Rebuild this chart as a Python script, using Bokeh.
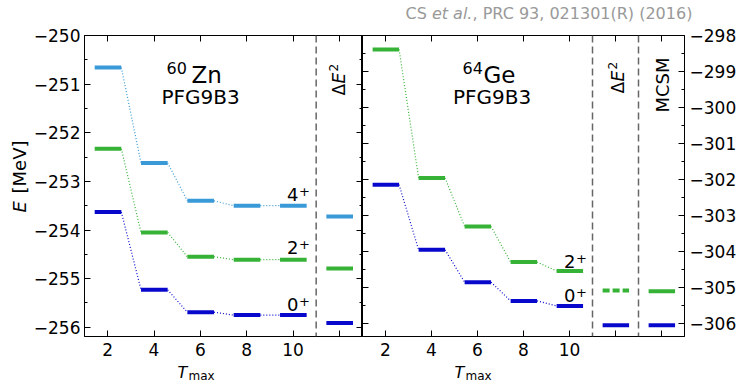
import math
from bokeh.plotting import figure
from bokeh.models import ColumnDataSource, LinearAxis, FixedTicker, Span, Label, Range1d
from bokeh.layouts import row, column
from bokeh.embed import file_html
from bokeh.resources import INLINE

FONT = "DejaVu Sans"

# ---------------- data ----------------
tmax = [2, 4, 6, 8, 10]
x_extrap = 12          # Delta E^2 extrapolation column
x_mcsm = 14            # MCSM column (64Ge only)

# 60Zn, PFG9B3 (MeV)
zn_0 = [-253.63, -255.23, -255.69, -255.75, -255.75]
zn_2 = [-252.33, -254.05, -254.55, -254.61, -254.61]
zn_4 = [-250.66, -252.62, -253.40, -253.50, -253.50]
zn_extrap_0 = -255.91
zn_extrap_2 = -254.79
zn_extrap_4 = -253.72

# 64Ge, PFG9B3 (MeV)
ge_0 = [-302.15, -303.96, -304.86, -305.38, -305.52]
ge_2 = [-298.39, -301.96, -303.31, -304.30, -304.55]
ge_extrap_0 = -306.06
ge_extrap_2 = -305.09
ge_mcsm_0 = -306.06
ge_mcsm_2 = -305.11

zn_yticks = [-256, -255, -254, -253, -252, -251, -250]
zn_yticklabels = ["\u2212256", "\u2212255", "\u2212254", "\u2212253", "\u2212252", "\u2212251", "\u2212250"]
ge_yticks = [-306, -305, -304, -303, -302, -301, -300, -299, -298]
ge_yticklabels = ["\u2212306", "\u2212305", "\u2212304", "\u2212303", "\u2212302",
                  "\u2212301", "\u2212300", "\u2212299", "\u2212298"]
zn_xticks = [2, 4, 6, 8, 10, 12]
ge_xticks = [2, 4, 6, 8, 10, 12, 14]
xticklabels = ["2", "4", "6", "8", "10", "", ""]

# ---------------- style ----------------
C0 = "#0808cc"
C2 = "#36b336"
C4 = "#3a9ad8"
HL, HR = 0.56, 0.59
GRAY = "#666666"
CITE = "#999999"
R90 = math.pi / 2

TOP_H, BOT_H, YLAB_W = 24, 25, 30
MID_H = 389 - TOP_H - BOT_H
FRAME_TOP, FRAME_BOTTOM = 35, 336


def levels(p, xs, ys, color, dash="solid"):
    src = ColumnDataSource(dict(x0=[x - HL for x in xs], x1=[x + HR for x in xs], y=list(ys)))
    p.segment(x0="x0", x1="x1", y0="y", y1="y", source=src, line_color=color,
              line_width=4, line_dash=dash)


def connectors(p, xs, ys, color):
    src = ColumnDataSource(dict(x0=[x + HR for x in xs[:-1]], x1=[x - HL for x in xs[1:]],
                                y0=list(ys[:-1]), y1=list(ys[1:])))
    p.segment(x0="x0", x1="x1", y0="y0", y1="y1", source=src, line_color=color,
              line_width=1.2, line_dash="1 2")


def style_axis(ax, ticks, labels, show, minor=None):
    ax.ticker = FixedTicker(ticks=ticks, minor_ticks=minor or [])
    ax.major_tick_in = 6
    ax.major_tick_out = 0
    ax.minor_tick_in = 3
    ax.minor_tick_out = 0
    ax.axis_line_color = "black"
    ax.major_tick_line_color = "black"
    ax.minor_tick_line_color = "black"
    ax.major_label_text_font = FONT
    ax.major_label_text_color = "black"
    if show:
        ax.major_label_text_font_size = "17px"
        ax.major_label_overrides = {t: l for t, l in zip(ticks, labels)}
    else:
        ax.major_label_text_font_size = "0px"
        ax.major_label_standoff = 0
        ax.major_label_overrides = {t: "" for t in ticks}


def lab(p, x, y, text, size, italic=False, align="left", baseline="alphabetic",
        angle=0.0, color="black"):
    # x, y in pixels relative to the frame's bottom-left corner (y up)
    if baseline == "alphabetic":
        y = y + 0.33 * size
    p.add_layout(Label(x=x, y=y, x_units="screen", y_units="screen", text=text,
                       text_font=FONT, text_font_size=f"{size}px",
                       text_font_style="italic" if italic else "normal",
                       text_align=align, text_baseline=baseline, angle=angle,
                       text_color=color))


def make_fig(width, xr, yr, bl, br):
    p = figure(width=width, height=MID_H, x_range=Range1d(*xr), y_range=Range1d(*yr),
               x_axis_type=None, y_axis_type=None, output_backend="svg",
               toolbar_location=None, min_border_left=bl, min_border_right=br,
               min_border_top=FRAME_TOP - TOP_H,
               min_border_bottom=(389 - BOT_H) - FRAME_BOTTOM)
    p.grid.visible = False
    p.outline_line_color = "black"
    p.outline_line_width = 1
    p.background_fill_color = "white"
    p.border_fill_color = "white"
    return p


def strip(width, height):
    # text-only canvas whose frame fills the whole canvas
    p = figure(width=width, height=height, x_range=Range1d(0, width), y_range=Range1d(0, height),
               x_axis_type=None, y_axis_type=None, output_backend="svg", toolbar_location=None,
               min_border_left=0, min_border_right=0, min_border_top=0, min_border_bottom=0)
    p.grid.visible = False
    p.outline_line_color = None
    p.background_fill_color = "white"
    p.border_fill_color = "white"
    return p


# ---------------- left panel: 60Zn ----------------
p1 = make_fig(362 - YLAB_W, (1, 13), (-256.19, -250), 83 - YLAB_W, 0)
zn_minor = [v + 0.5 for v in zn_yticks[:-1]]
for loc, show in (("left", True), ("right", False)):
    ax = LinearAxis()
    style_axis(ax, zn_yticks, zn_yticklabels, show, zn_minor)
    if show:
        ax.major_label_standoff = 4
    p1.add_layout(ax, loc)
for loc, show in (("below", True), ("above", False)):
    ax = LinearAxis()
    style_axis(ax, zn_xticks, xticklabels, show)
    if show:
        ax.major_label_standoff = 6
    p1.add_layout(ax, loc)

for ys, c in ((zn_4, C4), (zn_2, C2), (zn_0, C0)):
    connectors(p1, tmax, ys, c)
    levels(p1, tmax, ys, c)
levels(p1, [x_extrap], [zn_extrap_2], C2)
levels(p1, [x_extrap], [zn_extrap_4], C4)
levels(p1, [x_extrap], [zn_extrap_0], C0)
p1.add_layout(Span(location=11, dimension="height", line_color=GRAY, line_width=1.5,
                   line_dash="7 4"))

lab(p1, 82, 263, "60", 16)
lab(p1, 107, 254, "Zn", 23)
lab(p1, 116, 233, "PFG9B3", 20, align="center")
for yb, d in ((136, "4"), (83, "2"), (26, "0")):
    lab(p1, 214, yb, d, 18, align="right")
    lab(p1, 214.5, yb + 5, "+", 13)
lab(p1, 254, 241, "\u0394", 17, baseline="middle", angle=R90)
lab(p1, 254, 253, "E", 17, italic=True, baseline="middle", angle=R90)
lab(p1, 249, 265, "2", 12, baseline="middle", angle=R90)

# ---------------- right panel: 64Ge ----------------
p2 = make_fig(739 - 362, (1, 15), (-306.37, -298), 0, 53)
ge_minor = [v + 0.5 for v in ge_yticks[:-1]]
for loc, show in (("right", True), ("left", False)):
    ax = LinearAxis()
    style_axis(ax, ge_yticks, ge_yticklabels, show, ge_minor)
    if show:
        ax.major_label_standoff = 5
    p2.add_layout(ax, loc)
for loc, show in (("below", True), ("above", False)):
    ax = LinearAxis()
    style_axis(ax, ge_xticks, xticklabels, show)
    if show:
        ax.major_label_standoff = 6
    p2.add_layout(ax, loc)

for ys, c in ((ge_2, C2), (ge_0, C0)):
    connectors(p2, tmax, ys, c)
    levels(p2, tmax, ys, c)
levels(p2, [x_extrap], [ge_extrap_2], C2, dash="7 3")
levels(p2, [x_extrap], [ge_extrap_0], C0)
levels(p2, [x_mcsm], [ge_mcsm_2], C2)
levels(p2, [x_mcsm], [ge_mcsm_0], C0)
for loc in (11, 13):
    p2.add_layout(Span(location=loc, dimension="height", line_color=GRAY, line_width=1.5,
                       line_dash="7 4"))

lab(p2, 100, 263, "64", 16)
lab(p2, 121, 254, "Ge", 23)
lab(p2, 129.5, 233, "PFG9B3", 20, align="center")
for yb, d in ((69, "2"), (35, "0")):
    lab(p2, 213, yb, d, 18, align="right")
    lab(p2, 213.5, yb + 5, "+", 13)
lab(p2, 255, 243, "\u0394", 17, baseline="middle", angle=R90)
lab(p2, 255, 255, "E", 17, italic=True, baseline="middle", angle=R90)
lab(p2, 250, 267, "2", 12, baseline="middle", angle=R90)
lab(p2, 299.5, 224, "MCSM", 18, baseline="middle", angle=R90)

# ---------------- outer text strips (Labels, y measured up from strip bottom) ----------------
top = strip(739, TOP_H)
cite_base = TOP_H - 18.5
lab(top, 405, cite_base, "CS ", 16, color=CITE)
lab(top, 431.4, cite_base, "et al.", 16, italic=True, color=CITE)
lab(top, 472, cite_base, ", PRC 93, 021301(R) (2016)", 16, color=CITE)

ylab = strip(YLAB_W, MID_H)
mid_bottom = 389 - BOT_H
lab(ylab, 19, mid_bottom - 240, "E", 18, italic=True, angle=R90, baseline="middle")
lab(ylab, 19, mid_bottom - 221, "[MeV]", 18, angle=R90, baseline="middle")

bot = strip(739, BOT_H)
for xt in (177, 454):
    lab(bot, xt, 389 - 377, "T", 16, italic=True)
    lab(bot, xt + 11, 389 - 379, "max", 12)

layout = column(top, row(ylab, p1, p2), bot)
open("out.html", "w").write(file_html(layout, INLINE))
